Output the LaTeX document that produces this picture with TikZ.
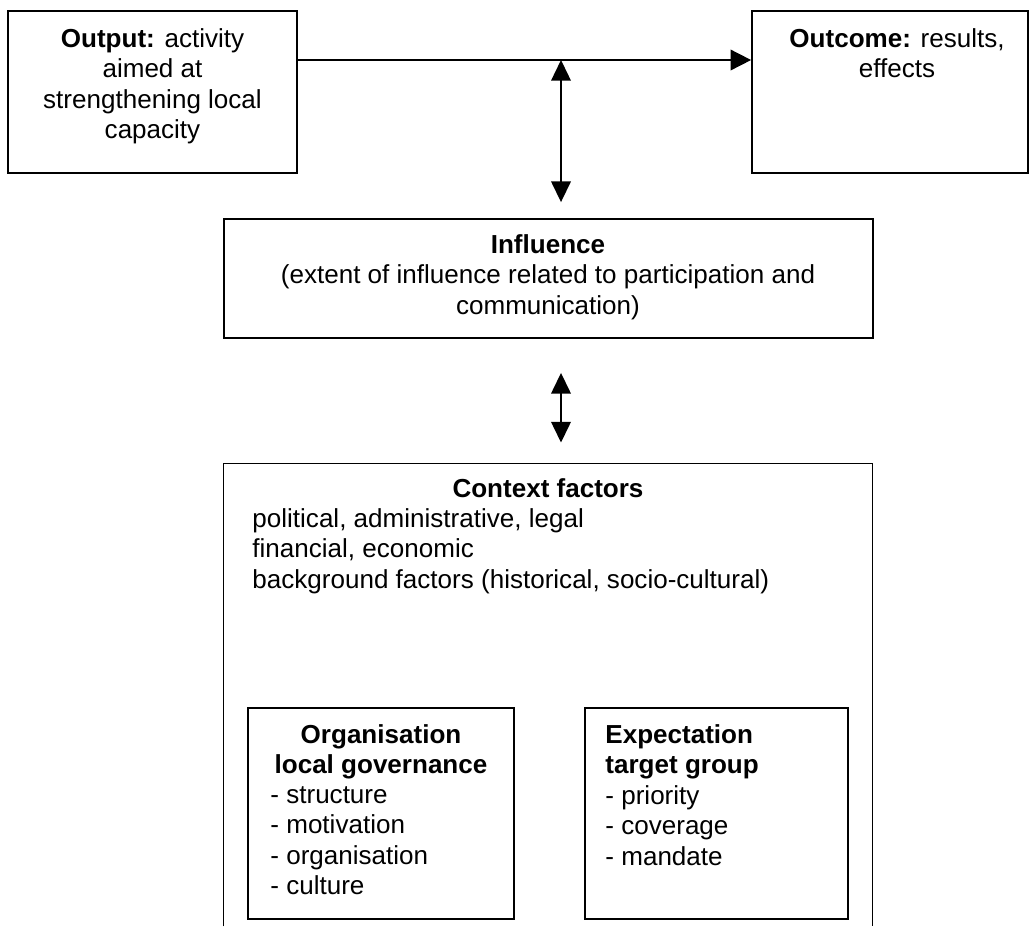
\documentclass[tikz,border=0pt]{standalone}
\usepackage{fontspec}
\setmainfont{Liberation Sans}
\usetikzlibrary{arrows.meta,fit}

\tikzset{
  frame/.style={draw, line width=0.8pt, inner sep=0pt},
  hollow/.style={inner sep=0pt},
  txt/.style={inner sep=0pt, font=\fontsize{12}{14.05}\selectfont},
  link/.style={line width=0.8pt, -{Triangle[length=9.5pt,width=9.5pt]}},
  twoway/.style={line width=0.8pt, {Triangle[length=9.5pt,width=9pt]}-{Triangle[length=9.5pt,width=9pt]}}
}

\begin{document}
\begin{tikzpicture}[x=0.4608pt, y=-0.4608pt]
  \useasboundingbox (0,0) rectangle (1029,926);

  % boxes
  \node[frame, fit={(8,11) (297,173)}] (output) {};
  \node[frame, fit={(752,11) (1028,173)}] (outcome) {};
  \node[frame, fit={(224,219) (873,338)}] (influence) {};
  \node[hollow, fit={(224,464) (872,926)}] (context) {};
  \draw[line width=0.8pt] (context.south west) -- (context.north west)
        -- (context.north east) -- (context.south east);
  \node[frame, fit={(248,708) (514,919)}] (org) {};
  \node[frame, fit={(585,708) (848,919)}] (expect) {};

  % texts (multi-line nodes are anchored at the baseline of their last line)
  \node[txt, align=center, anchor=base] (outputT) at (152.5,138.5)
    {\textbf{Output:} activity\\aimed at\\strengthening local\\capacity};
  \node[txt, align=center, anchor=base] (outcomeT) at (897,77.5)
    {\textbf{Outcome:} results,\\effects};
  \node[txt, align=center, anchor=base] (influenceT) at (548,314)
    {\textbf{Influence}\\(extent of influence related to participation and\\communication)};
  \node[txt, anchor=base] (contextT) at (548,497) {\textbf{Context factors}};
  \node[txt, align=left, anchor=base west] (contextL) at (252,588)
    {political, administrative, legal\\financial, economic\\background factors (historical, socio-cultural)};
  \node[txt, align=center, anchor=base] (orgT) at (381,773.5)
    {\textbf{Organisation}\\\textbf{local governance}};
  \node[txt, align=left, anchor=base west] (orgL) at (270,894.5)
    {- structure\\- motivation\\- organisation\\- culture};
  \node[txt, align=left, anchor=base west] (expectT) at (605,865)
    {\textbf{Expectation}\\\textbf{target group}\\- priority\\- coverage\\- mandate};

  % connectors
  \coordinate (level) at (0,60);
  \coordinate (junction) at (561,60);
  \draw[link] (output.east |- level) -- (outcome.west |- level);
  \draw[twoway, shorten >=7.4pt] (junction) -- (junction |- influence.north);
  \draw[twoway, shorten <=15.7pt, shorten >=9.7pt]
    (influence.south -| junction) -- (context.north -| junction);
\end{tikzpicture}
\end{document}
